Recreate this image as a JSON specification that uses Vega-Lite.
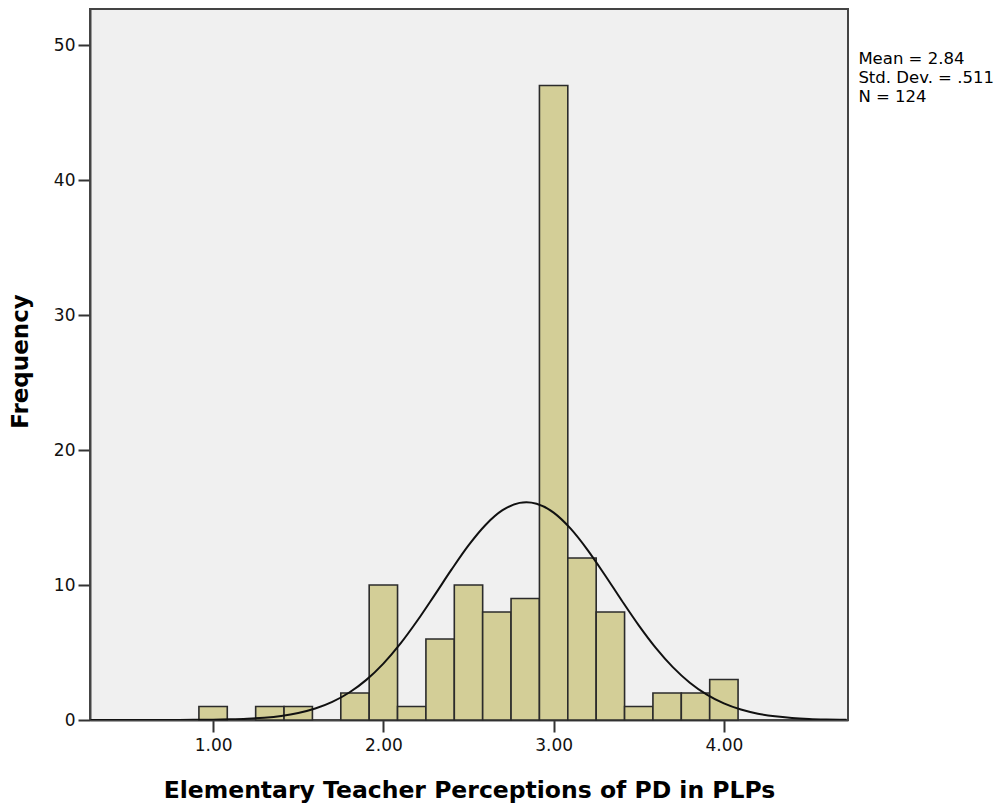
{
  "$schema": "https://vega.github.io/schema/vega-lite/v6.json",
  "width": 758,
  "height": 711,
  "autosize": {"type": "none"},
  "padding": {"left": 90, "top": 9, "right": 151, "bottom": 84},
  "background": "white",
  "config": {
    "view": {"fill": "#F0F0F0", "stroke": "#444444", "strokeWidth": 2},
    "font": "DejaVu Sans"
  },
  "datasets": {
    "bars": [
      {"lo": 0.9167, "hi": 1.0833, "count": 1},
      {"lo": 1.25, "hi": 1.4167, "count": 1},
      {"lo": 1.4167, "hi": 1.5833, "count": 1},
      {"lo": 1.75, "hi": 1.9167, "count": 2},
      {"lo": 1.9167, "hi": 2.0833, "count": 10},
      {"lo": 2.0833, "hi": 2.25, "count": 1},
      {"lo": 2.25, "hi": 2.4167, "count": 6},
      {"lo": 2.4167, "hi": 2.5833, "count": 10},
      {"lo": 2.5833, "hi": 2.75, "count": 8},
      {"lo": 2.75, "hi": 2.9167, "count": 9},
      {"lo": 2.9167, "hi": 3.0833, "count": 47},
      {"lo": 3.0833, "hi": 3.25, "count": 12},
      {"lo": 3.25, "hi": 3.4167, "count": 8},
      {"lo": 3.4167, "hi": 3.5833, "count": 1},
      {"lo": 3.5833, "hi": 3.75, "count": 2},
      {"lo": 3.75, "hi": 3.9167, "count": 2},
      {"lo": 3.9167, "hi": 4.0833, "count": 3}
    ],
    "curve": [
      {"x": 0.28, "y": 0.0},
      {"x": 0.5, "y": 0.0005},
      {"x": 0.7, "y": 0.0025},
      {"x": 0.8, "y": 0.0056},
      {"x": 0.9, "y": 0.012},
      {"x": 1.0, "y": 0.025},
      {"x": 1.1, "y": 0.049},
      {"x": 1.2, "y": 0.094},
      {"x": 1.3, "y": 0.172},
      {"x": 1.4, "y": 0.304},
      {"x": 1.5, "y": 0.518},
      {"x": 1.6, "y": 0.849},
      {"x": 1.7, "y": 1.341},
      {"x": 1.8, "y": 2.035},
      {"x": 1.9, "y": 2.973},
      {"x": 2.0, "y": 4.177},
      {"x": 2.1, "y": 5.652},
      {"x": 2.2, "y": 7.368},
      {"x": 2.3, "y": 9.234},
      {"x": 2.4, "y": 11.135},
      {"x": 2.5, "y": 12.934},
      {"x": 2.6, "y": 14.45},
      {"x": 2.7, "y": 15.541},
      {"x": 2.8, "y": 16.085},
      {"x": 2.84, "y": 16.135},
      {"x": 2.9, "y": 16.024},
      {"x": 3.0, "y": 15.364},
      {"x": 3.1, "y": 14.175},
      {"x": 3.2, "y": 12.589},
      {"x": 3.3, "y": 10.762},
      {"x": 3.4, "y": 8.852},
      {"x": 3.5, "y": 7.008},
      {"x": 3.6, "y": 5.339},
      {"x": 3.7, "y": 3.915},
      {"x": 3.8, "y": 2.762},
      {"x": 3.9, "y": 1.878},
      {"x": 4.0, "y": 1.226},
      {"x": 4.1, "y": 0.772},
      {"x": 4.2, "y": 0.467},
      {"x": 4.3, "y": 0.273},
      {"x": 4.4, "y": 0.153},
      {"x": 4.5, "y": 0.082},
      {"x": 4.6, "y": 0.043},
      {"x": 4.72, "y": 0.018}
    ],
    "stats": [
      {"label": "Mean = 2.84", "sx": 4.79, "sy": 48.63},
      {"label": "Std. Dev. = .511", "sx": 4.79, "sy": 47.22},
      {"label": "N = 124", "sx": 4.79, "sy": 45.81}
    ]
  },
  "layer": [
    {
      "data": {"name": "bars"},
      "mark": {"type": "rect", "fill": "#D3CE97", "stroke": "#2b2b2b", "strokeWidth": 1.6},
      "encoding": {
        "x": {
          "field": "lo", "type": "quantitative",
          "scale": {"domain": [0.277, 4.729], "nice": false, "zero": false},
          "axis": {
            "values": [1, 2, 3, 4], "format": ".2f",
            "title": "Elementary Teacher Perceptions of PD in PLPs",
            "titleFont": "DejaVu Sans", "titleFontWeight": "bold", "titleFontSize": 23.5, "titleColor": "#000000",
            "titleX": 379, "titleY": 77, "titleBaseline": "alphabetic", "titleAlign": "center",
            "labelFont": "DejaVu Sans", "labelFontSize": 17, "labelColor": "#111111", "labelPadding": 5,
            "tickSize": 12, "tickColor": "#333333", "tickWidth": 2,
            "domainColor": "#444444", "domainWidth": 2, "grid": false
          }
        },
        "x2": {"field": "hi"},
        "y": {
          "field": "count", "type": "quantitative",
          "scale": {"domain": [0, 52.67], "nice": false},
          "axis": {
            "values": [0, 10, 20, 30, 40, 50],
            "title": "Frequency",
            "titleFont": "DejaVu Sans", "titleFontWeight": "bold", "titleFontSize": 23, "titleColor": "#000000",
            "titleX": -63, "titleY": 352, "titleAngle": -90, "titleBaseline": "alphabetic", "titleAlign": "center",
            "labelFont": "DejaVu Sans", "labelFontSize": 17, "labelColor": "#111111", "labelPadding": 3,
            "tickSize": 12, "tickColor": "#333333", "tickWidth": 2,
            "domainColor": "#444444", "domainWidth": 2, "grid": false
          }
        },
        "y2": {"datum": 0}
      }
    },
    {
      "data": {"name": "curve"},
      "mark": {"type": "line", "color": "#111111", "strokeWidth": 2, "interpolate": "monotone", "clip": true},
      "encoding": {
        "x": {"field": "x", "type": "quantitative"},
        "y": {"field": "y", "type": "quantitative"}
      }
    },
    {
      "data": {"name": "stats"},
      "mark": {"type": "text", "align": "left", "baseline": "alphabetic", "font": "DejaVu Sans", "fontSize": 16.5, "color": "#000000", "clip": false},
      "encoding": {
        "x": {"field": "sx", "type": "quantitative"},
        "y": {"field": "sy", "type": "quantitative"},
        "text": {"field": "label"}
      }
    }
  ]
}
